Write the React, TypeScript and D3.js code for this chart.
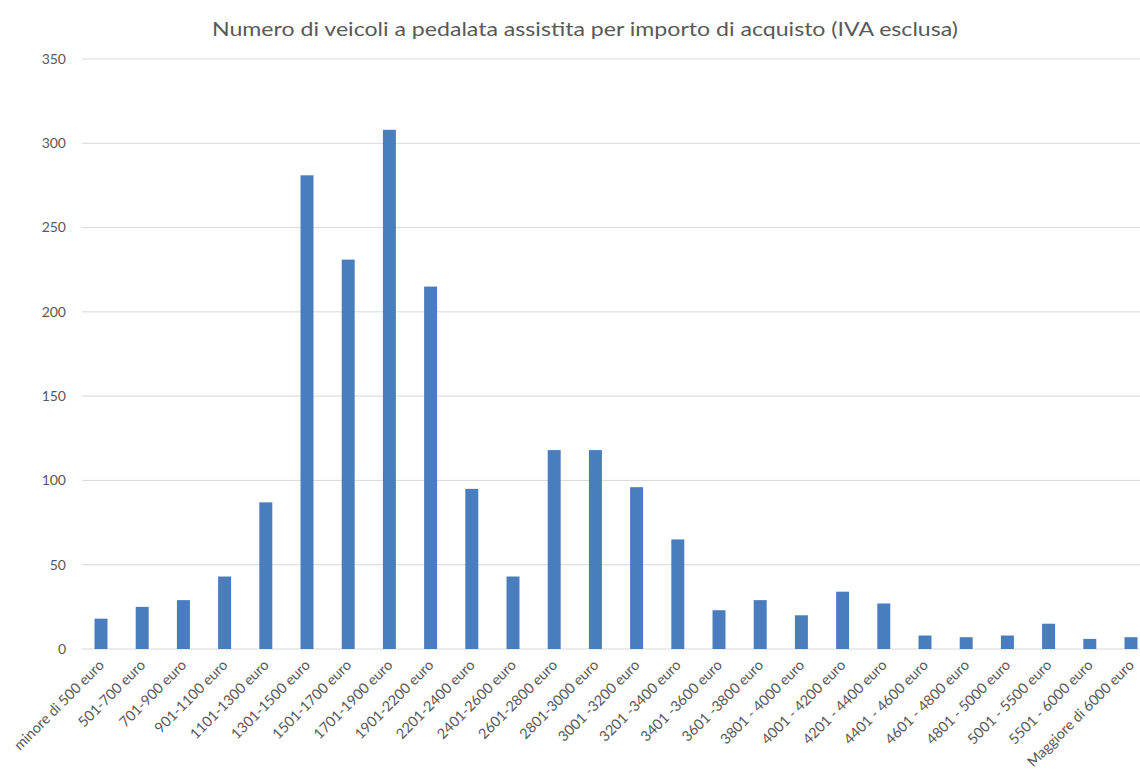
import React from "react";
import * as d3 from "d3";

const title = "Numero di veicoli a pedalata assistita per importo di acquisto (IVA esclusa)";

const categories: string[] = [
  "minore di 500 euro",
  "501-700 euro",
  "701-900 euro",
  "901-1100 euro",
  "1101-1300 euro",
  "1301-1500 euro",
  "1501-1700 euro",
  "1701-1900 euro",
  "1901-2200 euro",
  "2201-2400 euro",
  "2401-2600 euro",
  "2601-2800 euro",
  "2801-3000 euro",
  "3001 -3200 euro",
  "3201 -3400 euro",
  "3401 -3600 euro",
  "3601 -3800 euro",
  "3801 - 4000 euro",
  "4001 - 4200 euro",
  "4201 - 4400 euro",
  "4401 - 4600 euro",
  "4601 - 4800 euro",
  "4801 - 5000 euro",
  "5001 - 5500 euro",
  "5501 - 6000 euro",
  "Maggiore di 6000 euro",
];

const values: number[] = [
  18, 25, 29, 43, 87, 281, 231, 308, 215, 95, 43, 118, 118, 96, 65, 23, 29, 20, 34, 27, 8, 7, 8, 15, 6, 7,
];

const yTicks: number[] = [0, 50, 100, 150, 200, 250, 300, 350];

const W = 1140;
const H = 773;
const FONT = "Lato, 'Open Sans', sans-serif";
const TEXT = "#595959";

export default function App() {
  const x = d3
    .scaleBand<string>()
    .domain(categories)
    .range([80.4, 1151.6])
    .paddingInner(0.685)
    .paddingOuter(0.3425);
  const y = d3.scaleLinear().domain([0, 350]).range([649, 59]);

  return (
    <svg
      width={W}
      height={H}
      style={{ position: "absolute", left: 0, top: 0, background: "#fff" }}
      fontFamily={FONT}
    >
      <rect x={0} y={0} width={W} height={H} fill="#fff" />
      <text
        x={585}
        y={36}
        textAnchor="middle"
        fontSize={20}
        fill={TEXT}
        textLength={746}
        lengthAdjust="spacingAndGlyphs"
      >
        {title}
      </text>
      {yTicks.map((t) => (
        <g key={t}>
          <line x1={82} x2={1152} y1={y(t)} y2={y(t)} stroke="#d9d9d9" strokeWidth={1} />
          <text x={66} y={y(t)} dy="0.35em" textAnchor="end" fontSize={14} fill={TEXT}>
            {t}
          </text>
        </g>
      ))}
      {categories.map((c, i) => (
        <rect
          key={c}
          x={x(c)!}
          width={x.bandwidth()}
          y={y(values[i])}
          height={y(0) - y(values[i])}
          fill="#4a7dbd"
        />
      ))}
      {categories.map((c) => {
        const cx = x(c)! + x.bandwidth() / 2;
        return (
          <text
            key={c}
            transform={`translate(${cx + 4},${666}) rotate(-45)`}
            textAnchor="end"
            fontSize={14.4}
            fill={TEXT}
          >
            {c}
          </text>
        );
      })}
    </svg>
  );
}
